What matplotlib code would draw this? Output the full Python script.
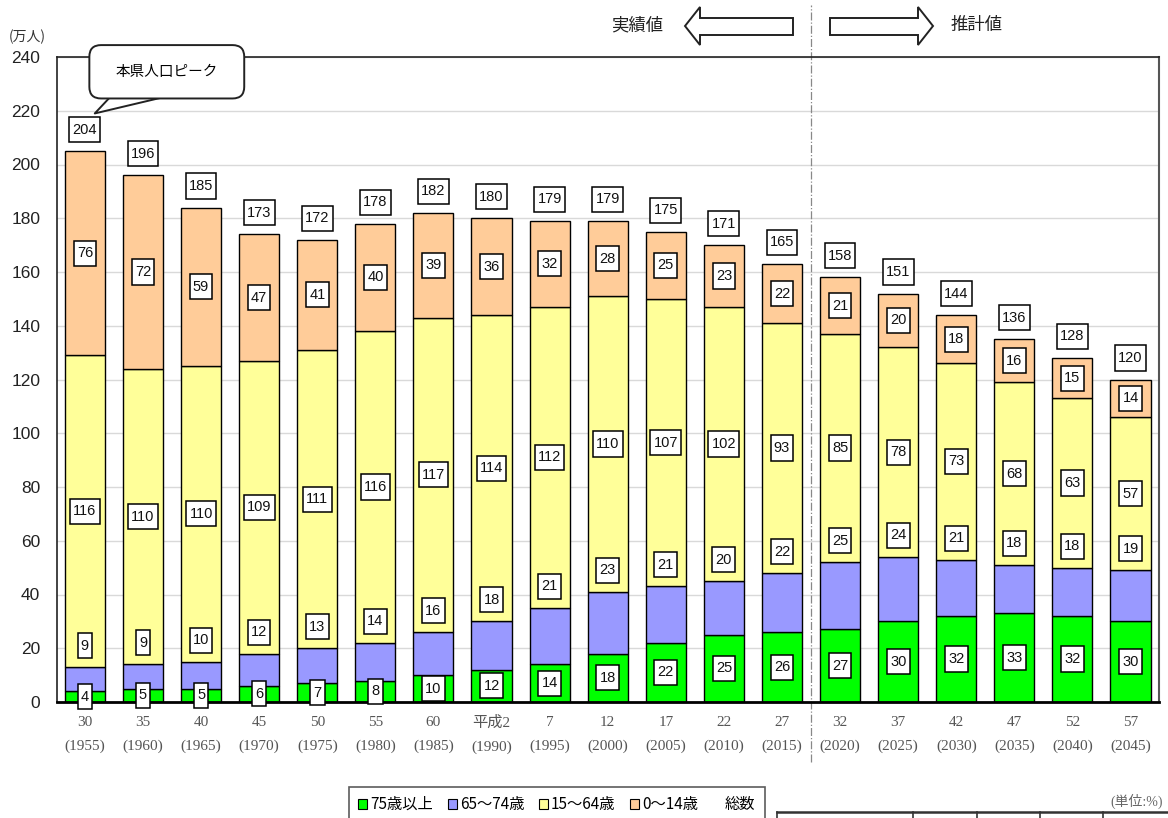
import matplotlib
matplotlib.use("Agg")
import matplotlib.pyplot as plt
from matplotlib.patches import Patch, Polygon, BoxStyle
from matplotlib.lines import Line2D
from matplotlib.path import Path

# ==== data ====
years_wa = ["30", "35", "40", "45", "50", "55", "60", "平成2", "7", "12",
            "17", "22", "27", "32", "37", "42", "47", "52", "57"]
years_ad = ["1955", "1960", "1965", "1970", "1975", "1980", "1985", "1990", "1995", "2000",
            "2005", "2010", "2015", "2020", "2025", "2030", "2035", "2040", "2045"]
age75 = [4, 5, 5, 6, 7, 8, 10, 12, 14, 18, 22, 25, 26, 27, 30, 32, 33, 32, 30]
age65 = [9, 9, 10, 12, 13, 14, 16, 18, 21, 23, 21, 20, 22, 25, 24, 21, 18, 18, 19]
age15 = [116, 110, 110, 109, 111, 116, 117, 114, 112, 110, 107, 102, 93, 85, 78, 73, 68, 63, 57]
age0 = [76, 72, 59, 47, 41, 40, 39, 36, 32, 28, 25, 23, 22, 21, 20, 18, 16, 15, 14]
total = [204, 196, 185, 173, 172, 178, 182, 180, 179, 179, 175, 171, 165, 158, 151, 144, 136, 128, 120]
series_names = ["75歳以上", "65～74歳", "15～64歳", "0～14歳", "総数"]
# ==============

GREEN = "#00FF00"
BLUE = "#9999FF"
YELLOW = "#FFFF99"
ORANGE = "#FFCC99"

W, H = 1168, 818
JP = ["Noto Sans CJK JP", "DejaVu Sans"]
NARROW = ["Liberation Sans Narrow", "Liberation Sans", "DejaVu Sans"]
SERIF = ["Liberation Serif", "Noto Sans CJK JP"]

plt.rcParams["font.family"] = JP


def fx(px):
    return px / W


def fy(py):
    return 1 - py / H


def tall_box(x0, y0, width, height, mutation_size):
    # label box: narrow side padding, taller top/bottom padding
    px = 0.22 * mutation_size
    py = 0.38 * mutation_size
    return Path.unit_rectangle().transformed(
        matplotlib.transforms.Affine2D().scale(width + 2 * px, height + 2 * py)
        .translate(x0 - px, y0 - py))


def callout_box(x0, y0, width, height, mutation_size):
    px = 1.8 * mutation_size
    py = 1.35 * mutation_size
    return BoxStyle.Round(pad=0, rounding_size=0.8)(x0 - px, y0 - py, width + 2 * px,
                                                    height + 2 * py, mutation_size)


fig = plt.figure(figsize=(W / 100, H / 100), dpi=100)
ax = fig.add_axes([fx(57), fy(702), (1159 - 57) / W, (702 - 57) / H])

n = len(total)
x = list(range(n))
bw = 0.69
b1 = age75
b2 = [a + b for a, b in zip(b1, age65)]
b3 = [a + b for a, b in zip(b2, age15)]
tops = [a + b for a, b in zip(b3, age0)]

ax.bar(x, age75, bw, color=GREEN, edgecolor="black", linewidth=1, zorder=2)
ax.bar(x, age65, bw, bottom=b1, color=BLUE, edgecolor="black", linewidth=1, zorder=2)
ax.bar(x, age15, bw, bottom=b2, color=YELLOW, edgecolor="black", linewidth=1, zorder=2)
ax.bar(x, age0, bw, bottom=b3, color=ORANGE, edgecolor="black", linewidth=1, zorder=2)

box = dict(boxstyle=tall_box, fc="white", ec="black", lw=1.1)
lab_kw = dict(ha="center", va="center", fontsize=10.5, family=NARROW, bbox=box, zorder=4,
              clip_on=False, color="#111111")
for i in x:
    ax.text(i, age75[i] / 2, str(age75[i]), **lab_kw)
    ax.text(i, b2[i] + 8, str(age65[i]), **lab_kw)
    ax.text(i, b2[i] + age15[i] / 2, str(age15[i]), **lab_kw)
    ax.text(i, b3[i] + age0[i] / 2, str(age0[i]), **lab_kw)
    ax.text(i, tops[i] + 8, str(total[i]), **lab_kw)

ax.set_xlim(-0.48, 18.49)
ax.set_ylim(0, 240)
ax.set_yticks(range(0, 241, 20))
ax.set_xticks(x)
ax.set_xticklabels([f"{a}\n({b})" for a, b in zip(years_wa, years_ad)],
                   family=SERIF, fontsize=11, color="#555555", linespacing=2.0)
for t in ax.get_yticklabels():
    t.set_family(NARROW)
    t.set_fontsize(12.5)
    t.set_color("#222222")
ax.tick_params(axis="both", length=0)
ax.tick_params(axis="y", pad=12)
ax.tick_params(axis="x", pad=10)
ax.yaxis.grid(True, color="#d9d9d9", linewidth=1)
ax.set_axisbelow(True)
for s in ["left", "top"]:
    ax.spines[s].set_color("#222222")
    ax.spines[s].set_linewidth(1.2)
ax.spines["right"].set_color("#555555")
ax.spines["right"].set_linewidth(1.5)
ax.spines["bottom"].set_color("black")
ax.spines["bottom"].set_linewidth(2)

# split between actual and projected
ax.axvline(12.5, ymin=-0.093, ymax=1.08, color="#888888", linestyle="-.", linewidth=0.9,
           clip_on=False, zorder=1)

# peak callout
ax.annotate("本県人口ピーク", xy=(0.17, total[0] + 15), xytext=(1.41, total[0] + 30.5),
            ha="center", va="center", fontsize=10.5, family=JP, zorder=6,
            bbox=dict(boxstyle=callout_box, fc="white", ec="#222222", lw=1.4),
            arrowprops=dict(arrowstyle="wedge,tail_width=3.6", fc="white", ec="#222222", lw=1.4,
                            patchA=None, shrinkA=0, shrinkB=0, mutation_scale=10),
            annotation_clip=False)

# header arrows
left_arrow = [(685, 26), (700, 7), (700, 18), (793, 18), (793, 35), (700, 35), (700, 45)]
right_arrow = [(933, 26), (918, 7), (918, 18), (830, 18), (830, 35), (918, 35), (918, 45)]
for pts in (left_arrow, right_arrow):
    fig.patches.append(Polygon([(fx(a), fy(b)) for a, b in pts], closed=True, fc="white",
                               ec="#222222", lw=1.4, transform=fig.transFigure))
fig.text(fx(637), fy(25), "実績値", ha="center", va="center", fontsize=12.5, color="#222222")
fig.text(fx(977), fy(25), "推計値", ha="center", va="center", fontsize=12.5, color="#222222")

fig.text(fx(27), fy(37), "(万人)", ha="center", va="center", fontsize=10, color="#333333")

# legend
handles = [Patch(fc=GREEN, ec="black", lw=0.8), Patch(fc=BLUE, ec="black", lw=0.8),
           Patch(fc=YELLOW, ec="black", lw=0.8), Patch(fc=ORANGE, ec="black", lw=0.8),
           Patch(fc="none", ec="none")]
leg = fig.legend(handles, series_names, loc="upper left", bbox_to_anchor=(fx(349), fy(787)),
                 ncol=5, frameon=True, fancybox=False, edgecolor="#333333", fontsize=11,
                 handlelength=0.6, handleheight=0.6, handletextpad=0.2, columnspacing=0.95,
                 borderpad=0.6, borderaxespad=0)
leg.get_frame().set_linewidth(1.2)

# unit note and top of the table below
fig.text(fx(1163), fy(801), "(単位:%)", ha="right", va="center", fontsize=10,
         family=SERIF, color="#666666")
fig.lines.append(Line2D([fx(777), fx(1168)], [fy(812), fy(812)], color="#333333", lw=1.8,
                        transform=fig.transFigure))
for px in (777, 913, 977, 1040, 1103):
    fig.lines.append(Line2D([fx(px), fx(px)], [fy(812), fy(820)], color="#333333", lw=1.2,
                            transform=fig.transFigure))

fig.savefig("out.png", dpi=100)
